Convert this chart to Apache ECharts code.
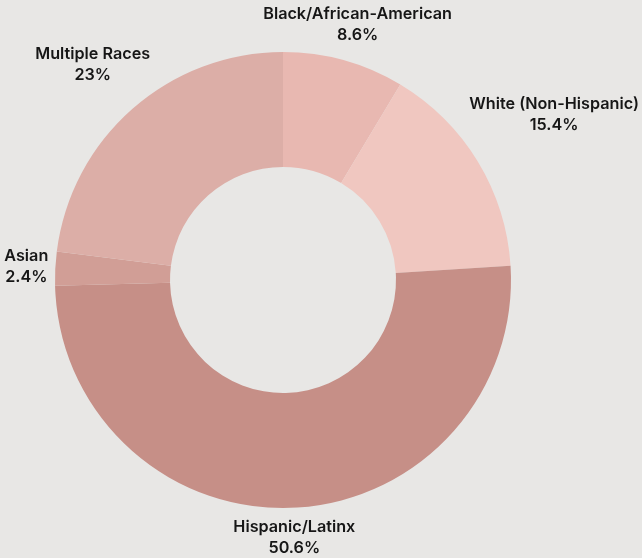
<!DOCTYPE html>
<html><head><meta charset="utf-8">
<script src="https://cdn.jsdelivr.net/npm/echarts@6/dist/echarts.min.js"></script>
<style>html,body{margin:0;padding:0;background:#e8e7e5;}#c{width:642px;height:558px;}</style>
</head><body><div id="c"></div>
<script>
const categories = ['Black/African-American','White (Non-Hispanic)','Hispanic/Latinx','Asian','Multiple Races'];
const values = [8.6, 15.4, 50.6, 2.4, 23];
const colors = ['#e8b8b1','#f0c7c0','#c68f87','#d19e96','#dcaea7'];

const CX = 283, CY = 280, R_OUT = 228, R_IN = 113, GAP = 6;
const total = values.reduce((a,b)=>a+b,0);
const cum = [];
values.reduce((a,v,i)=>{cum[i]=a; return a+v;},0);

const chart = echarts.init(document.getElementById('c'));
chart.setOption({
  backgroundColor:'#e8e7e5',
  animation:false,
  series:[{
    type:'pie',
    center:[CX,CY],
    radius:[R_IN,R_OUT],
    startAngle:90,
    clockwise:true,
    avoidLabelOverlap:false,
    minShowLabelAngle:0,
    data: categories.map((n,i)=>({name:n,value:values[i],itemStyle:{color:colors[i]}})),
    label:{
      show:true,
      position:'outside',
      formatter: p => p.name + '\n' + p.value + '%',
      fontFamily:'Inter',
      fontWeight:600,
      fontSize:16.2,
      lineHeight:21,
      color:'#161616',
      align:'center',
      overflow:'none',
      edgeDistance:0
    },
    labelLine:{show:false},
    emphasis:{disabled:true},
    labelLayout: function(params){
      const i = params.dataIndex;
      const f = (cum[i] + values[i]/2)/total;
      const th = f*2*Math.PI;
      const ux = Math.sin(th), uy = -Math.cos(th);
      const w = params.labelRect.width, h = params.labelRect.height;
      const ext = Math.abs(ux)*w/2 + Math.abs(uy)*h/2;
      const d = R_OUT + GAP + ext;
      let x = CX + ux*d, y = CY + uy*d;
      if (y - h/2 < 4) y = 4 + h/2;
      if (x + w/2 > 641) x = 641 - w/2;
      if (x - w/2 < 2) x = 2 + w/2;
      return {x:x, y:y, align:'center', verticalAlign:'middle', hideOverlap:false};
    }
  }]
});
</script></body></html>
